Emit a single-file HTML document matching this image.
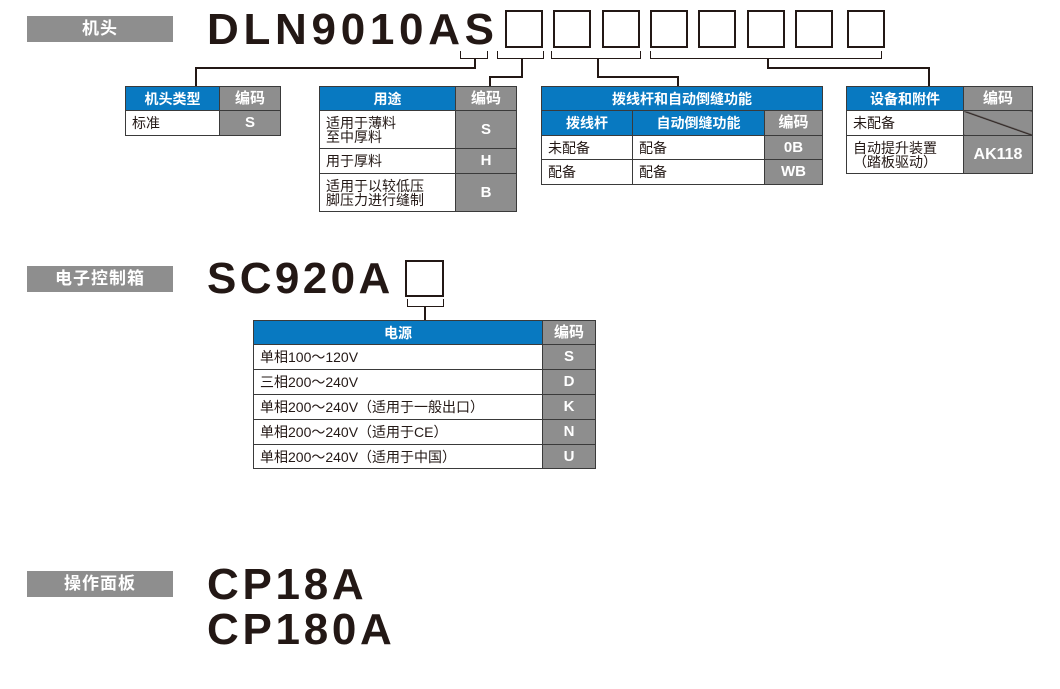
<!DOCTYPE html>
<html><head><meta charset="utf-8"><style>
*{margin:0;padding:0;box-sizing:border-box}
body{width:1060px;height:689px;background:#fff;position:relative;overflow:hidden;font-family:"Liberation Sans","Noto Sans CJK SC",sans-serif;color:#231815}
.a{position:absolute}
.bar{position:absolute;left:27px;width:146px;height:26px;background:#8e8e8e;color:#fff;font-weight:bold;font-size:17px;text-align:center;line-height:26px;letter-spacing:1px}
.big{position:absolute;font-weight:bold;font-size:44px;letter-spacing:4.7px;line-height:44px;color:#231815}
.box{position:absolute;border:2px solid #231815;background:#fff}
.ln{position:absolute;background:#231815}
table{position:absolute;border-collapse:collapse;font-size:14px}
td{border:1.5px solid #3a3a3a;padding:0 0 0 6px;line-height:14px}
td.h{background:#0879c1;color:#fff;font-weight:bold;text-align:center;padding:0}
td.g{background:#8e8e8e;color:#fff;font-weight:bold;text-align:center;padding:0;font-size:15px}
</style></head><body>

<div class="bar" style="top:16px">机头</div>
<div class="big" style="left:207px;top:8px">DLN9010AS</div>
<div class="box" style="left:505px;top:10px;width:38px;height:38px"></div>
<div class="box" style="left:553px;top:10px;width:38px;height:38px"></div>
<div class="box" style="left:602px;top:10px;width:38px;height:38px"></div>
<div class="box" style="left:650px;top:10px;width:38px;height:38px"></div>
<div class="box" style="left:698px;top:10px;width:38px;height:38px"></div>
<div class="box" style="left:747px;top:10px;width:38px;height:38px"></div>
<div class="box" style="left:795px;top:10px;width:38px;height:38px"></div>
<div class="box" style="left:847px;top:10px;width:38px;height:38px"></div>

<div class="a" style="left:460px;top:51px;width:28px;height:8px;border:1.5px solid #231815;border-top:none"></div>
<div class="ln" style="left:474px;top:59px;width:1.5px;height:9px"></div>
<div class="ln" style="left:195px;top:67px;width:281px;height:1.5px"></div>
<div class="ln" style="left:195px;top:67px;width:1.5px;height:20px"></div>

<div class="a" style="left:497px;top:51px;width:47px;height:8px;border:1.5px solid #231815;border-top:none"></div>
<div class="ln" style="left:521px;top:59px;width:1.5px;height:18px"></div>
<div class="ln" style="left:489px;top:76px;width:34px;height:1.5px"></div>
<div class="ln" style="left:489px;top:76px;width:1.5px;height:11px"></div>

<div class="a" style="left:551px;top:51px;width:90px;height:8px;border:1.5px solid #231815;border-top:none"></div>
<div class="ln" style="left:597px;top:59px;width:1.5px;height:18px"></div>
<div class="ln" style="left:597px;top:76px;width:81px;height:1.5px"></div>
<div class="ln" style="left:677px;top:76px;width:1.5px;height:11px"></div>

<div class="a" style="left:650px;top:51px;width:232px;height:8px;border:1.5px solid #231815;border-top:none"></div>
<div class="ln" style="left:767px;top:59px;width:1.5px;height:9px"></div>
<div class="ln" style="left:767px;top:67px;width:162px;height:1.5px"></div>
<div class="ln" style="left:928px;top:67px;width:1.5px;height:20px"></div>

<table style="left:125px;top:86px;width:156px">
<tr style="height:24px"><td class="h" style="width:94px">机头类型</td><td class="g">编码</td></tr>
<tr style="height:25px"><td>标准</td><td class="g">S</td></tr>
</table>

<table style="left:319px;top:86px;width:198px">
<tr style="height:24px"><td class="h" style="width:136px">用途</td><td class="g">编码</td></tr>
<tr style="height:38px"><td>适用于薄料<br>至中厚料</td><td class="g">S</td></tr>
<tr style="height:25px"><td>用于厚料</td><td class="g">H</td></tr>
<tr style="height:38px"><td>适用于以较低压<br>脚压力进行缝制</td><td class="g">B</td></tr>
</table>

<table style="left:541px;top:86px;width:282px">
<tr style="height:24px"><td class="h" colspan="3">拨线杆和自动倒缝功能</td></tr>
<tr style="height:25px"><td class="h" style="width:91px">拨线杆</td><td class="h" style="width:132px">自动倒缝功能</td><td class="g">编码</td></tr>
<tr style="height:24px"><td>未配备</td><td>配备</td><td class="g">0B</td></tr>
<tr style="height:25px"><td>配备</td><td>配备</td><td class="g">WB</td></tr>
</table>

<table style="left:846px;top:86px;width:187px">
<tr style="height:24px"><td class="h" style="width:117px">设备和附件</td><td class="g">编码</td></tr>
<tr style="height:25px"><td>未配备</td><td class="g" style="background:#8e8e8e linear-gradient(to top right,transparent 48%,#231815 50%,transparent 53%)"></td></tr>
<tr style="height:38px"><td>自动提升装置<br>（踏板驱动）</td><td class="g" style="font-size:16px">AK118</td></tr>
</table>

<div class="bar" style="top:266px">电子控制箱</div>
<div class="big" style="left:207px;top:257px;letter-spacing:3.4px">SC920A</div>
<div class="box" style="left:405px;top:260px;width:39px;height:37px"></div>
<div class="a" style="left:407px;top:299px;width:37px;height:8px;border:1.5px solid #231815;border-top:none"></div>
<div class="ln" style="left:424px;top:307px;width:1.5px;height:13px"></div>

<table style="left:253px;top:320px;width:343px">
<tr style="height:24px"><td class="h" style="width:289px">电源</td><td class="g">编码</td></tr>
<tr style="height:25px"><td>单相100～120V</td><td class="g">S</td></tr>
<tr style="height:25px"><td>三相200～240V</td><td class="g">D</td></tr>
<tr style="height:25px"><td>单相200～240V（适用于一般出口）</td><td class="g">K</td></tr>
<tr style="height:25px"><td>单相200～240V（适用于CE）</td><td class="g">N</td></tr>
<tr style="height:24px"><td>单相200～240V（适用于中国）</td><td class="g">U</td></tr>
</table>

<div class="bar" style="top:571px">操作面板</div>
<div class="big" style="left:207px;top:563px;letter-spacing:3.7px">CP18A</div>
<div class="big" style="left:207px;top:608px;letter-spacing:3.7px">CP180A</div>
</body></html>
